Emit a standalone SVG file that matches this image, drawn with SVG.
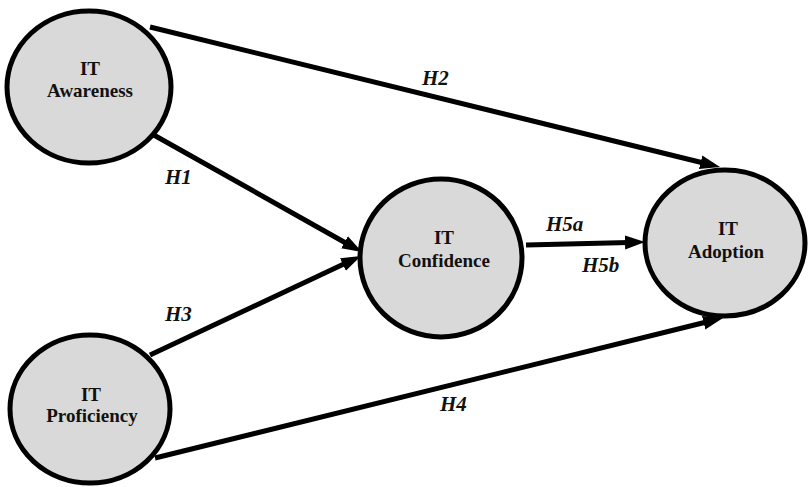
<svg xmlns="http://www.w3.org/2000/svg" width="810" height="487" viewBox="0 0 810 487">
<style>
.node{fill:#d9d9d9;stroke:#000;stroke-width:5}
.nt{font-family:'Liberation Serif','Times New Roman','DejaVu Serif',serif;font-weight:bold;font-size:19px;text-anchor:middle;fill:#111}
.lab{font-family:'Liberation Serif','Times New Roman','DejaVu Serif',serif;font-weight:bold;font-style:italic;font-size:21px;fill:#111}
.edge{stroke:#000;stroke-width:5;fill:none;marker-end:url(#ah)}
</style>
<defs>
<marker id="ah" markerUnits="userSpaceOnUse" markerWidth="22" markerHeight="16" refX="4" refY="7" orient="auto">
<path d="M0,0 L20,7 L0,14 z" fill="#000"/>
</marker>
</defs>
<rect width="810" height="487" fill="#fff"/>
<g id="connectors">
<line class="edge" x1="150" y1="27" x2="704.5" y2="163.2"/>
<line class="edge" x1="152" y1="134" x2="348" y2="244.2"/>
<line class="edge" x1="150" y1="355" x2="346.5" y2="262.8"/>
<line class="edge" x1="155" y1="458" x2="707.5" y2="321.8"/>
<line class="edge" x1="526" y1="245" x2="629" y2="242.4"/>
<text class="lab" x="422" y="85">H2</text>
<text class="lab" x="165" y="184">H1</text>
<text class="lab" x="165" y="321">H3</text>
<text class="lab" x="440" y="411">H4</text>
<text class="lab" x="546" y="231">H5a</text>
<text class="lab" x="582" y="272">H5b</text>
</g>
<g id="awareness">
<ellipse class="node" cx="89" cy="87" rx="82" ry="76"/>
<text class="nt" x="90" y="75">IT</text>
<text class="nt" x="90" y="97">Awareness</text>
</g>
<g id="proficiency">
<ellipse class="node" cx="90" cy="409" rx="80" ry="74"/>
<text class="nt" x="91" y="401">IT</text>
<text class="nt" x="92" y="422">Proficiency</text>
</g>
<g id="confidence">
<ellipse class="node" cx="441" cy="258" rx="81" ry="79"/>
<text class="nt" x="444" y="244">IT</text>
<text class="nt" x="444" y="267">Confidence</text>
</g>
<g id="adoption">
<ellipse class="node" cx="725" cy="243" rx="80" ry="73"/>
<text class="nt" x="728" y="235">IT</text>
<text class="nt" x="726" y="258">Adoption</text>
</g>
</svg>
